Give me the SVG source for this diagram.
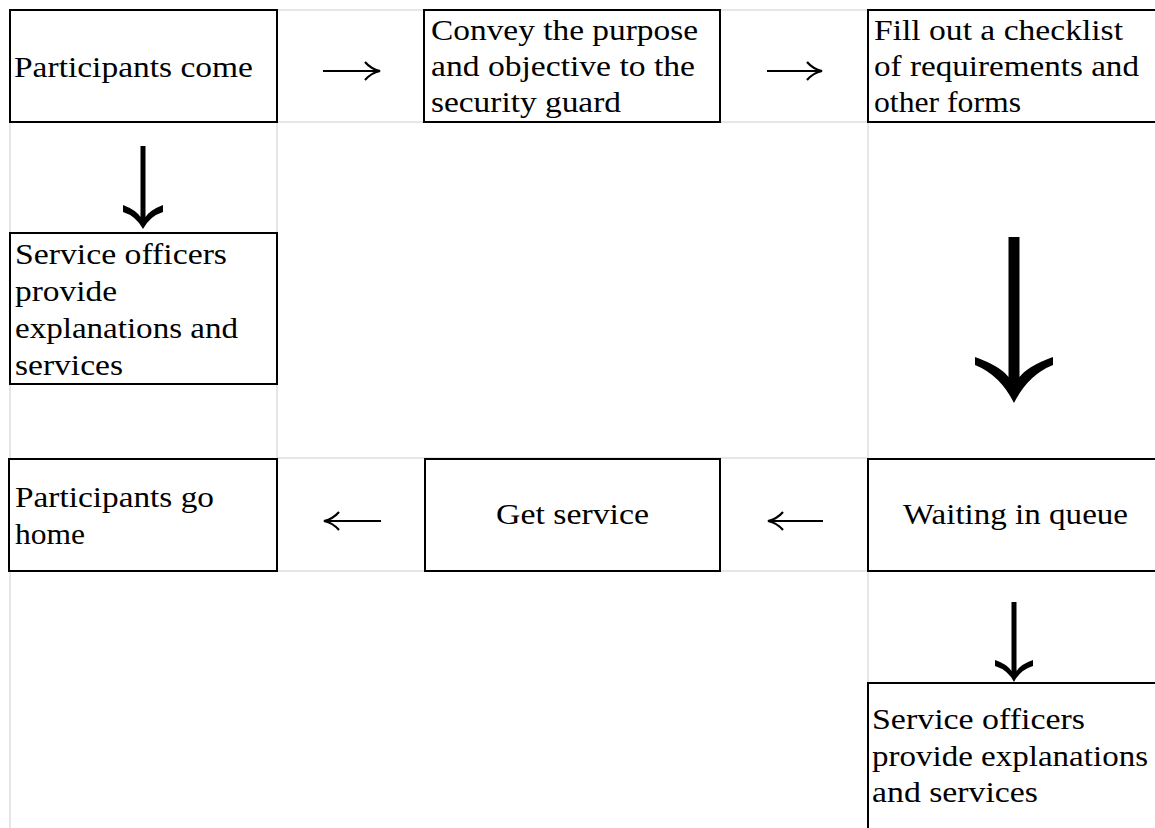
<svg xmlns="http://www.w3.org/2000/svg" width="1155" height="828" viewBox="0 0 1155 828">
<style>
.grid{stroke:#dedede;stroke-width:1.5;fill:none}
.box{fill:#fff;stroke:#000;stroke-width:2}
.t{font-family:"Liberation Serif","Times New Roman",serif;font-size:29.5px;fill:#000}
.ha{stroke:#000;stroke-width:2.2;fill:none}
.va{fill:#000;stroke:none}
</style>
<rect width="1155" height="828" fill="#fff"/>
<g id="grid" class="grid">
<line x1="10" y1="10" x2="1155" y2="10"/>
<line x1="10" y1="122" x2="1155" y2="122"/>
<line x1="10" y1="122" x2="10" y2="828"/>
<line x1="277" y1="122" x2="277" y2="458"/>
<line x1="868" y1="122" x2="868" y2="458"/>
<line x1="868" y1="571" x2="868" y2="683"/>
<line x1="277" y1="458" x2="868" y2="458"/>
<line x1="277" y1="571" x2="868" y2="571"/>
</g>
<g id="n1"><rect class="box" x="10" y="10" width="267" height="112"/>
<text class="t" x="14" y="77" textLength="239" lengthAdjust="spacingAndGlyphs">Participants come</text></g>
<g id="n2"><rect class="box" x="424" y="10" width="296" height="112"/>
<text class="t" x="431" y="40" textLength="267" lengthAdjust="spacingAndGlyphs">Convey the purpose</text>
<text class="t" x="431" y="76" textLength="264" lengthAdjust="spacingAndGlyphs">and objective to the</text>
<text class="t" x="431" y="112" textLength="190" lengthAdjust="spacingAndGlyphs">security guard</text></g>
<g id="n3"><rect class="box" x="868" y="10" width="300" height="112"/>
<text class="t" x="874" y="40" textLength="249" lengthAdjust="spacingAndGlyphs">Fill out a checklist</text>
<text class="t" x="874" y="76" textLength="265" lengthAdjust="spacingAndGlyphs">of requirements and</text>
<text class="t" x="874" y="112" textLength="147" lengthAdjust="spacingAndGlyphs">other forms</text></g>
<g id="n4"><rect class="box" x="10" y="233" width="267" height="151"/>
<text class="t" x="15" y="264" textLength="212" lengthAdjust="spacingAndGlyphs">Service officers</text>
<text class="t" x="15" y="301" textLength="102" lengthAdjust="spacingAndGlyphs">provide</text>
<text class="t" x="15" y="338" textLength="223" lengthAdjust="spacingAndGlyphs">explanations and</text>
<text class="t" x="15" y="375" textLength="108" lengthAdjust="spacingAndGlyphs">services</text></g>
<g id="n5"><rect class="box" x="9" y="459" width="268" height="112"/>
<text class="t" x="15" y="507" textLength="199" lengthAdjust="spacingAndGlyphs">Participants go</text>
<text class="t" x="15" y="544" textLength="70" lengthAdjust="spacingAndGlyphs">home</text></g>
<g id="n6"><rect class="box" x="425" y="459" width="295" height="112"/>
<text class="t" x="496" y="524" textLength="153" lengthAdjust="spacingAndGlyphs">Get service</text></g>
<g id="n7"><rect class="box" x="868" y="459" width="300" height="112"/>
<text class="t" x="903" y="524" textLength="225" lengthAdjust="spacingAndGlyphs">Waiting in queue</text></g>
<g id="n8"><rect class="box" x="868" y="683" width="300" height="200"/>
<text class="t" x="872" y="729" textLength="213" lengthAdjust="spacingAndGlyphs">Service officers</text>
<text class="t" x="872" y="766" textLength="276" lengthAdjust="spacingAndGlyphs">provide explanations</text>
<text class="t" x="872" y="802" textLength="166" lengthAdjust="spacingAndGlyphs">and services</text></g>
<g id="connectors">
<path class="ha" d="M323 71 H379 M365 62 Q371 69 380 71 Q371 73 365 80"/>
<path class="ha" d="M767 71 H821 M807 62 Q813 69 822 71 Q813 73 807 80"/>
<path class="ha" d="M381 521 H325 M339 512 Q333 519 324 521 Q333 523 339 530"/>
<path class="ha" d="M823 521 H769 M783 512 Q777 519 768 521 Q777 523 783 530"/>
<path class="va" d="M143 229 Q136 216 123 212 L123 205 Q136 210 140.5 217 L140.5 146 L145.5 146 L145.5 217 Q150 210 163 205 L163 212 Q150 216 143 229 Z"/>
<path class="va" d="M1014 403 Q1000 375 975 365 L975 357 Q1000 366 1008.5 377 L1008.5 237 L1019.5 237 L1019.5 377 Q1028 366 1053 357 L1053 365 Q1028 375 1014 403 Z"/>
<path class="va" d="M1014 682 Q1008 670 995 666 L995 660 Q1007 664 1011.5 671 L1011.5 602 L1016.5 602 L1016.5 671 Q1021 664 1033 660 L1033 666 Q1020 670 1014 682 Z"/>
</g>
</svg>
